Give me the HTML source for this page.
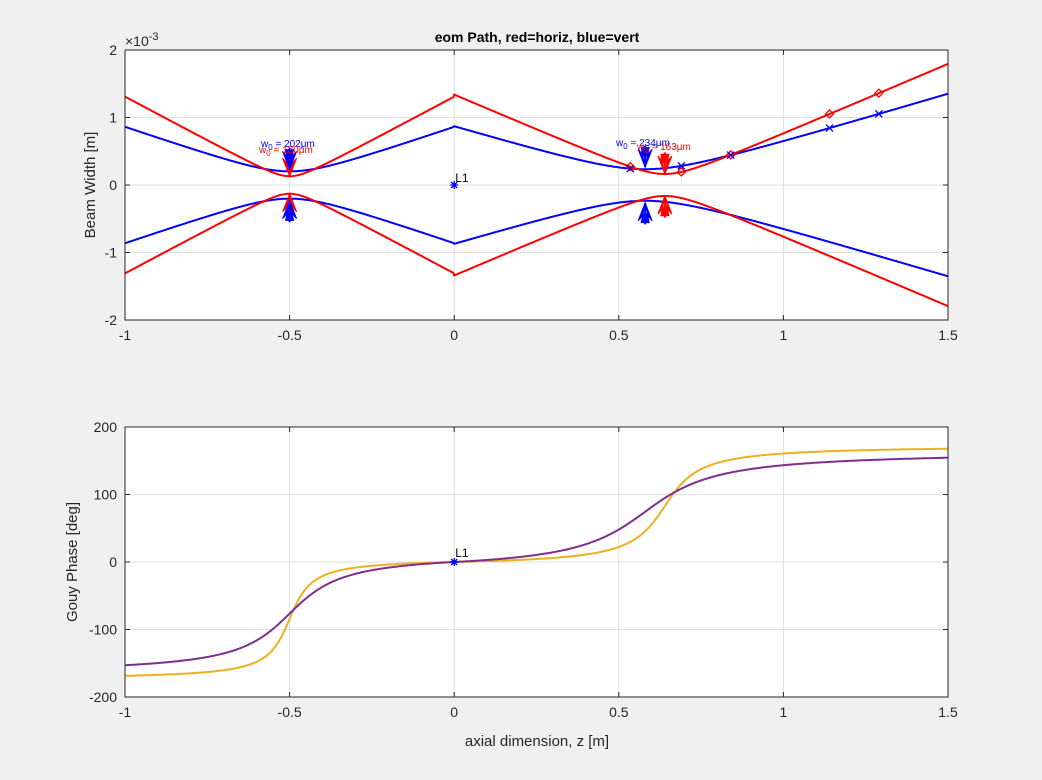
<!DOCTYPE html>
<html><head><meta charset="utf-8"><style>
body{margin:0;background:#f0f0f0;}
svg{display:block;font-family:"Liberation Sans",sans-serif;}
</style></head><body>
<svg id="s" width="1042" height="780" xmlns="http://www.w3.org/2000/svg"></svg>
<script>
const S=document.getElementById('s');
let h='';
const X0=125,X1=948;
const xp=z=>X0+(z+1)*(X1-X0)/2.5;
const y1=v=>185-v*67.5e3;
const y2=v=>562-v*135/200;
function axes(top,bot){
 h+=`<rect x="${X0}" y="${top}" width="${X1-X0}" height="${bot-top}" fill="#fff"/>`;
}
axes(50,320);axes(427,697);
for(const z of [-0.5,0,0.5,1]){h+=`<line x1="${xp(z)}" x2="${xp(z)}" y1="50" y2="320" stroke="#dfdfdf"/><line x1="${xp(z)}" x2="${xp(z)}" y1="427" y2="697" stroke="#dfdfdf"/>`;}
for(const v of [-1,0,1]){h+=`<line x1="${X0}" x2="${X1}" y1="${y1(v*1e-3)}" y2="${y1(v*1e-3)}" stroke="#dfdfdf"/>`;}
for(const v of [-100,0,100]){h+=`<line x1="${X0}" x2="${X1}" y1="${y2(v)}" y2="${y2(v)}" stroke="#dfdfdf"/>`;}
const lam=1.064e-6;
const zr=w=>Math.PI*w*w/lam;
const beams=[{c:'#ff0000',w1:130e-6,z1:-0.5,w2:163e-6,z2:0.64},{c:'#0000ff',w1:202e-6,z1:-0.5,w2:234e-6,z2:0.58}];
function wz(b,z){const w0=z<0?b.w1:b.w2,zw=z<0?b.z1:b.z2,r=zr(w0);return w0*Math.sqrt(1+((z-zw)/r)**2);}
function gz(b,z){if(z<0){const r=zr(b.w1);return (Math.atan((z-b.z1)/r)-Math.atan((0-b.z1)/r))*180/Math.PI;}const r=zr(b.w2);return (Math.atan((z-b.z2)/r)+Math.atan((b.z2)/r))*180/Math.PI;}
const N=1000;
const gcol=['#EDB120','#7E2F8E'];
for(const bi of [1,0]){const b=beams[bi];
 let p1='',p2='';
 for(let i=0;i<=N;i++){const z=-1+2.5*i/N;const w=wz(b,z);p1+=`${xp(z).toFixed(1)},${y1(w).toFixed(1)} `;p2+=`${xp(z).toFixed(1)},${y1(-w).toFixed(1)} `;}
 h+=`<polyline points="${p1}" fill="none" stroke="${b.c}" stroke-width="2"/><polyline points="${p2}" fill="none" stroke="${b.c}" stroke-width="2"/>`;
}
for(const bi of [0,1]){const b=beams[bi];let p='';
 for(let i=0;i<=N;i++){const z=-1+2.5*i/N;p+=`${xp(z).toFixed(1)},${y2(gz(b,z)).toFixed(1)} `;}
 h+=`<polyline points="${p}" fill="none" stroke="${gcol[bi]}" stroke-width="2"/>`;}
for(const z of [0.535,0.69,0.84,1.14,1.29]){
 const r=wz(beams[0],z),bl=wz(beams[1],z);
 const x=xp(z),yr=y1(r),yb=y1(bl);
 h+=`<path d="M${x-4},${yr}L${x},${yr-4}L${x+4},${yr}L${x},${yr+4}Z" fill="none" stroke="#f00" stroke-width="1.3"/>`;
 h+=`<path d="M${x-3.5},${yb-3.5}L${x+3.5},${yb+3.5}M${x-3.5},${yb+3.5}L${x+3.5},${yb-3.5}" stroke="#00f" stroke-width="1.3"/>`;
}
function arrow(x,yt,dir,c){
 const L=18*dir;
 h+=`<path d="M${x},${yt}L${x-7},${yt-L}L${x},${yt-L*0.55}L${x+7},${yt-L}Z M${x-4},${yt-L*1.1}L${x},${yt}L${x+4},${yt-L*1.1}Z" fill="${c}" stroke="${c}" stroke-width="1"/><line x1="${x}" x2="${x}" y1="${yt}" y2="${yt-L*1.2}" stroke="${c}" stroke-width="2"/>`;
}
for(const [bi,z] of [[0,-0.5],[1,-0.5],[0,0.64],[1,0.58]]){const b=beams[bi];const w=wz(b,z);
 arrow(xp(z),y1(w)+(bi?-2:0),1,b.c);arrow(xp(z),y1(-w)-(bi?-2:0),-1,b.c);}
function ast(x,y){h+=`<path d="M${x-4},${y}L${x+4},${y}M${x},${y-4}L${x},${y+4}M${x-3},${y-3}L${x+3},${y+3}M${x-3},${y+3}L${x+3},${y-3}" stroke="#00f" stroke-width="1.3"/>`;}
ast(xp(0),y1(0));ast(xp(0),y2(0));
h+=`<text x="${xp(0)+1}" y="182" font-size="12" fill="#000">L1</text>`;
h+=`<text x="${xp(0)+1}" y="557" font-size="12" fill="#000">L1</text>`;
h+=`<text x="261" y="147" fill="#00f" font-size="10">w<tspan dy="3" font-size="8">0</tspan><tspan dy="-3"> = 202</tspan>μm</text>`;
h+=`<text x="259" y="153" fill="#f00" font-size="10">w<tspan dy="3" font-size="8">0</tspan><tspan dy="-3"> = 130</tspan>μm</text>`;
h+=`<text x="616" y="146" fill="#00f" font-size="10">w<tspan dy="3" font-size="8">0</tspan><tspan dy="-3"> = 234</tspan>μm</text>`;
h+=`<text x="637" y="150" fill="#f00" font-size="10">w<tspan dy="3" font-size="8">0</tspan><tspan dy="-3"> = 163</tspan>μm</text>`;
for(const [t,b] of [[50,320],[427,697]]) h+=`<rect x="${X0}" y="${t}" width="${X1-X0}" height="${b-t}" fill="none" stroke="#262626" stroke-width="1"/>`;
const tc='#262626';
for(const z of [-1,-0.5,0,0.5,1,1.5]){const x=xp(z);const lab=String(z);
 for(const [t,b] of [[50,320],[427,697]]){h+=`<line x1="${x}" x2="${x}" y1="${b}" y2="${b-5}" stroke="${tc}"/><line x1="${x}" x2="${x}" y1="${t}" y2="${t+5}" stroke="${tc}"/><text x="${x}" y="${b+20}" font-size="14" fill="${tc}" text-anchor="middle">${lab}</text>`;}}
for(const v of [-2,-1,0,1,2]){const y=y1(v*1e-3);h+=`<line x1="${X0}" x2="${X0+5}" y1="${y}" y2="${y}" stroke="${tc}"/><line x1="${X1}" x2="${X1-5}" y1="${y}" y2="${y}" stroke="${tc}"/><text x="${X0-8}" y="${y+5}" font-size="14" fill="${tc}" text-anchor="end">${v}</text>`;}
for(const v of [-200,-100,0,100,200]){const y=y2(v);h+=`<line x1="${X0}" x2="${X0+5}" y1="${y}" y2="${y}" stroke="${tc}"/><line x1="${X1}" x2="${X1-5}" y1="${y}" y2="${y}" stroke="${tc}"/><text x="${X0-8}" y="${y+5}" font-size="14" fill="${tc}" text-anchor="end">${v}</text>`;}
h+=`<text x="125" y="46" font-size="14" fill="${tc}">×10<tspan dy="-6" font-size="11">-3</tspan></text>`;
h+=`<text x="537" y="42" font-size="14" font-weight="bold" fill="#000" text-anchor="middle">eom Path, red=horiz, blue=vert</text>`;
h+=`<text transform="translate(95,185) rotate(-90)" font-size="15" fill="${tc}" text-anchor="middle">Beam Width [m]</text>`;
h+=`<text transform="translate(77,562) rotate(-90)" font-size="15" fill="${tc}" text-anchor="middle">Gouy Phase [deg]</text>`;
h+=`<text x="537" y="746" font-size="15" fill="${tc}" text-anchor="middle">axial dimension, z [m]</text>`;
S.innerHTML=h;
</script>
</body></html>
